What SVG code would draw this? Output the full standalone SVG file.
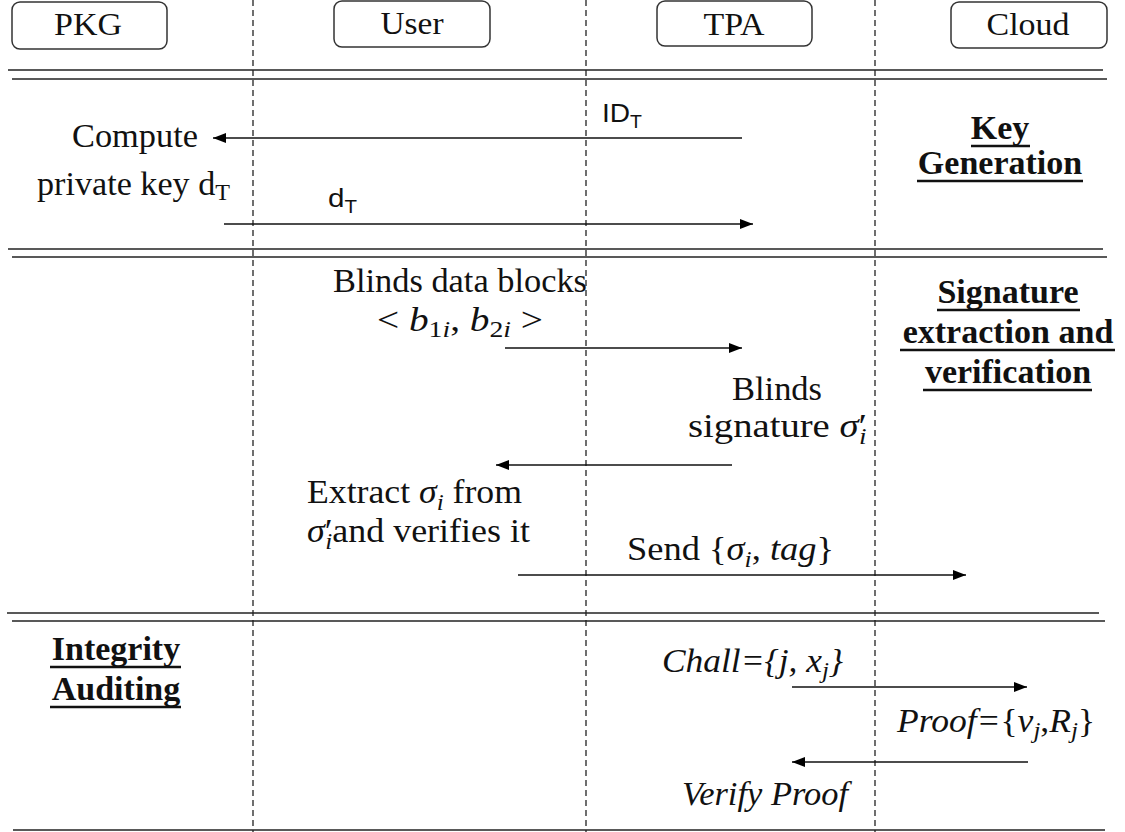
<svg xmlns="http://www.w3.org/2000/svg" width="1125" height="832" viewBox="0 0 1125 832">
<defs>
<marker id="ah" markerUnits="userSpaceOnUse" markerWidth="14" markerHeight="10" refX="13" refY="5" orient="auto"><path d="M0,0 L13,5 L0,10 z" fill="#000"/></marker>
<style>
.t{font-family:"Liberation Serif","Times New Roman",serif;font-size:34px;fill:#111}
.bt{font-family:"Liberation Serif","Times New Roman",serif;font-size:34px;font-weight:bold;fill:#111;text-anchor:middle}
.a{font-family:"Liberation Sans",Arial,sans-serif;font-size:26px;fill:#111}
.i{font-style:italic}
.box{fill:#fff;stroke:#333;stroke-width:1.5}
.bl{font-family:"Liberation Serif","Times New Roman",serif;font-size:32px;fill:#111;text-anchor:middle}
.life{stroke:#222;stroke-width:1.3;stroke-dasharray:6 4;fill:none}
.sep{stroke:#222;stroke-width:1.6}
.msg{stroke:#111;stroke-width:1.6;fill:none;marker-end:url(#ah)}
.ul{stroke:#111;stroke-width:2.5}
</style>
</defs>
<rect width="1125" height="832" fill="#fff"/>
<g id="lifelines">
<line class="life" x1="253" y1="0" x2="253" y2="832"/>
<line class="life" x1="586" y1="0" x2="586" y2="832"/>
<line class="life" x1="875" y1="0" x2="875" y2="832"/>
</g>
<g id="separators">
<line class="sep" x1="8" y1="70" x2="1103" y2="70"/>
<line class="sep" x1="12" y1="79" x2="1107" y2="79"/>
<line class="sep" x1="8" y1="249" x2="1103" y2="249"/>
<line class="sep" x1="12" y1="257" x2="1107" y2="257"/>
<line class="sep" x1="7" y1="613" x2="1099" y2="613"/>
<line class="sep" x1="12" y1="621" x2="1105" y2="621"/>
<line class="sep" x1="13" y1="830" x2="1105" y2="830"/>
</g>
<g id="node-pkg"><rect class="box" x="12" y="2" width="155" height="47" rx="8"/><text class="bl" x="88" y="35" textLength="68" lengthAdjust="spacingAndGlyphs">PKG</text></g>
<g id="node-user"><rect class="box" x="334" y="1" width="156" height="46" rx="8"/><text class="bl" x="412" y="34" textLength="63" lengthAdjust="spacingAndGlyphs">User</text></g>
<g id="node-tpa"><rect class="box" x="657" y="1" width="155" height="45" rx="8"/><text class="bl" x="734" y="35" textLength="61" lengthAdjust="spacingAndGlyphs">TPA</text></g>
<g id="node-cloud"><rect class="box" x="951" y="2" width="156" height="46" rx="8"/><text class="bl" x="1028" y="35" textLength="83" lengthAdjust="spacingAndGlyphs">Cloud</text></g>
<g id="connectors">
<path class="msg" d="M742,138 L213,138"/>
<path class="msg" d="M224,224 L753,224"/>
<path class="msg" d="M505,348 L742,348"/>
<path class="msg" d="M732,465 L496,465"/>
<path class="msg" d="M518,575 L966,575"/>
<path class="msg" d="M792,687 L1027,687"/>
<path class="msg" d="M1028,762 L792,762"/>
</g>
<g id="labels-keygen">
<text class="a" x="602" y="122" textLength="40" lengthAdjust="spacingAndGlyphs">ID<tspan font-size="18" dy="6">T</tspan></text>
<text class="a" x="328" y="207" textLength="29" lengthAdjust="spacingAndGlyphs">d<tspan font-size="18" dy="6">T</tspan></text>
<text class="t" x="72" y="147" textLength="126" lengthAdjust="spacingAndGlyphs">Compute</text>
<text class="t" x="37" y="195" textLength="193" lengthAdjust="spacingAndGlyphs">private key d<tspan font-size="24" dy="5">T</tspan></text>
</g>
<g id="section-keygen">
<text class="bt" x="1000" y="139">Key</text>
<line class="ul" x1="971" y1="146" x2="1030" y2="146"/>
<text class="bt" x="1000" y="174">Generation</text>
<line class="ul" x1="917" y1="181" x2="1083" y2="181"/>
</g>
<g id="labels-signature">
<text class="t" x="333" y="292" textLength="254" lengthAdjust="spacingAndGlyphs">Blinds data blocks</text>
<text class="t" x="377" y="331" textLength="166" lengthAdjust="spacingAndGlyphs">&lt; <tspan class="i">b</tspan><tspan font-size="24" dy="6">1</tspan><tspan font-size="24" class="i">i</tspan><tspan dy="-6">, </tspan><tspan class="i">b</tspan><tspan font-size="24" dy="6">2</tspan><tspan font-size="24" class="i">i</tspan><tspan dy="-6"> &gt;</tspan></text>
<text class="t" x="732" y="400" textLength="90" lengthAdjust="spacingAndGlyphs">Blinds</text>
<text class="t" x="688" y="437" textLength="179" lengthAdjust="spacingAndGlyphs">signature <tspan class="i">σ</tspan><tspan>′</tspan><tspan class="i" font-size="24" dx="-7" dy="7">i</tspan></text>
<text class="t" x="307" y="503" textLength="215" lengthAdjust="spacingAndGlyphs">Extract <tspan class="i">σ</tspan><tspan class="i" font-size="24" dy="7">i</tspan><tspan dy="-7"> from</tspan></text>
<text class="t" x="307" y="542" textLength="223" lengthAdjust="spacingAndGlyphs"><tspan class="i">σ</tspan><tspan>′</tspan><tspan class="i" font-size="24" dx="-7" dy="7">i</tspan><tspan dy="-7">and verifies it</tspan></text>
<text class="t" x="627" y="560" textLength="207" lengthAdjust="spacingAndGlyphs">Send {<tspan class="i">σ</tspan><tspan class="i" font-size="24" dy="7">i</tspan><tspan dy="-7">, </tspan><tspan class="i">tag</tspan>}</text>
</g>
<g id="section-signature">
<text class="bt" x="1008" y="303">Signature</text>
<line class="ul" x1="937" y1="310" x2="1080" y2="310"/>
<text class="bt" x="1008" y="343">extraction and</text>
<line class="ul" x1="900" y1="350" x2="1115" y2="350"/>
<text class="bt" x="1008" y="383">verification</text>
<line class="ul" x1="923" y1="390" x2="1092" y2="390"/>
</g>
<g id="section-integrity">
<text class="bt" x="116" y="660">Integrity</text>
<line class="ul" x1="50" y1="667" x2="181" y2="667"/>
<text class="bt" x="116" y="700">Auditing</text>
<line class="ul" x1="50" y1="707" x2="181" y2="707"/>
</g>
<g id="labels-auditing">
<text class="t i" x="662" y="672" textLength="181" lengthAdjust="spacingAndGlyphs">Chall={j, x<tspan font-size="24" dy="6">j</tspan><tspan dy="-6">}</tspan></text>
<text class="t" x="897" y="732" textLength="198" lengthAdjust="spacingAndGlyphs"><tspan class="i">Proof=</tspan>{<tspan class="i">v</tspan><tspan class="i" font-size="24" dy="6">j</tspan><tspan dy="-6">,</tspan><tspan class="i">R</tspan><tspan class="i" font-size="24" dy="6">j</tspan><tspan dy="-6">}</tspan></text>
<text class="t i" x="682" y="805" textLength="166" lengthAdjust="spacingAndGlyphs">Verify Proof</text>
</g>
</svg>
